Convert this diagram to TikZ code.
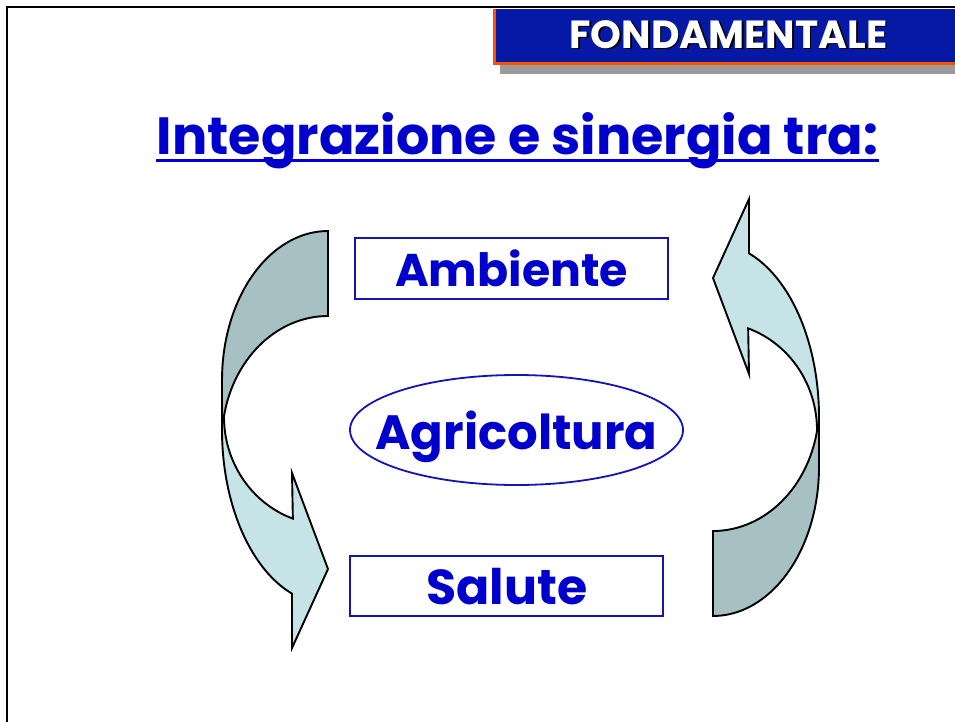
\documentclass[tikz,border=0pt]{standalone}
\usepackage{fontspec}
\setmainfont{Poppins}
\usepackage{graphicx}
\usetikzlibrary{shapes.geometric}
\definecolor{textblue}{RGB}{0,0,204}
\definecolor{boxblue}{RGB}{20,20,180}
\definecolor{bannerblue}{RGB}{5,25,165}
\definecolor{bannerorange}{RGB}{255,80,0}
\definecolor{shadowgray}{RGB}{155,155,155}
\definecolor{arrowlight}{RGB}{198,228,232}
\definecolor{arrowdark}{RGB}{166,192,196}
\newcommand{\fitw}[2]{\resizebox{#1}{!}{\fontsize{50}{60}\selectfont\bfseries #2}}
\newcommand{\curvedarrowshape}{%
  \filldraw[arrowpiece, fill=arrowdark]
    (328,231) -- plot[domain=90:180] ({328+106*cos(\t)},{380-149*sin(\t)})
    -- (222,417) -- plot[domain=169:90] ({328+106*cos(\t)},{440-124*sin(\t)}) -- cycle;
  \filldraw[arrowpiece, fill=arrowlight]
    plot[domain=180:250.25] ({328+104*cos(\t)},{417-108*sin(\t)})
    -- (292,473) -- (328,569) -- (292,648)
    -- plot[domain=250.15:180] ({328+106*cos(\t)},{430-174*sin(\t)})
    -- (222,417) -- cycle;
}
\begin{document}
\begin{tikzpicture}[x=1pt,y=-1pt,
  arrowpiece/.style={draw=black, line width=1.9pt, line join=miter},
  labelbox/.style={draw=boxblue, line width=1.8pt, inner sep=0pt, text=textblue},
  every plot/.style={samples=40, variable=\t}]
\useasboundingbox (0,0) rectangle (955,722);
\fill[white] (0,0) rectangle (955,722);
% frame
\draw[line width=2.6pt, black] (7,722) -- (7,7) -- (955,7);
% banner
\fill[shadowgray] (500,65) rectangle (955,74);
\fill[bannerorange] (493,9) rectangle (955,65);
\fill[bannerblue] (496,9) rectangle (955,62);
\node[anchor=base, inner sep=0pt, text=black] (bannershadow) at (730,50) {\fitw{318pt}{FONDAMENTALE}};
\node[anchor=base, inner sep=0pt, text=white] (banner) at (728.3,48.3) {\fitw{318pt}{FONDAMENTALE}};
% title
\node[anchor=base, inner sep=0pt, text=textblue] (title) at (517.5,155) {\fitw{721pt}{Integrazione e sinergia tra:}};
\draw[textblue, line width=3pt] (156,160.5) -- (879,160.5);
% arrows
\curvedarrowshape
\begin{scope}[rotate around={180:(520.5,423.5)}]
\curvedarrowshape
\end{scope}
% boxes
\node[labelbox, minimum width=313pt, minimum height=61pt] (amb) at (511.5,268.5) {\fitw{233pt}{Ambiente}};
\node[labelbox, ellipse, minimum width=333pt, minimum height=110pt, text depth=0pt] (agr) at (516.5,430) {\makebox[0pt]{\fitw{282pt}{Agricoltura}}};
\node[labelbox, minimum width=313pt, minimum height=60pt] (sal) at (506.7,586.3) {\fitw{161pt}{Salute}};
\end{tikzpicture}
\end{document}
